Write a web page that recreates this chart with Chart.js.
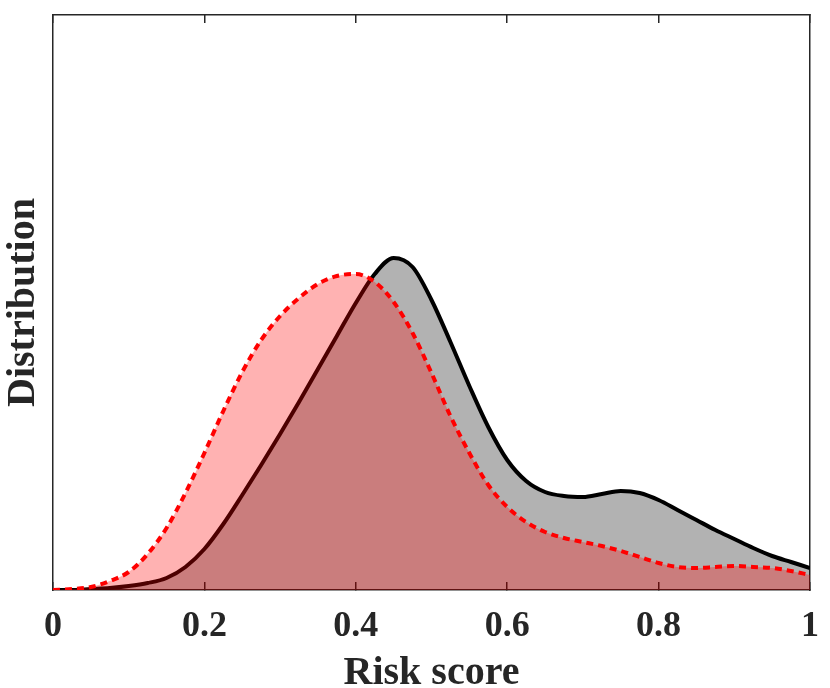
<!DOCTYPE html>
<html>
<head>
<meta charset="utf-8">
<title>Risk score distribution</title>
<script src="https://cdn.jsdelivr.net/npm/chart.js@4"></script>
<style>
    body { margin: 0; background: #ffffff; }
    #wrap { width: 830px; height: 688px; }
</style>
</head>
<body>
<div id="wrap"><canvas id="dist-chart"></canvas></div>
<script>
// Risk score grid (x axis), step 0.025
const riskScores = [0, 0.025, 0.05, 0.075, 0.1, 0.125, 0.15, 0.175, 0.2, 0.225,
    0.25, 0.275, 0.3, 0.325, 0.35, 0.375, 0.4, 0.425, 0.45, 0.475,
    0.5, 0.525, 0.55, 0.575, 0.6, 0.625, 0.65, 0.675, 0.7, 0.725,
    0.75, 0.775, 0.8, 0.825, 0.85, 0.875, 0.9, 0.925, 0.95, 0.975, 1];

// Solid black curve (grey fill)
const blackDensity = [0, 0, 0.01, 0.02, 0.04, 0.07, 0.12, 0.23, 0.41, 0.66,
    0.95, 1.25, 1.56, 1.88, 2.21, 2.54, 2.87, 3.16, 3.32, 3.23,
    2.90, 2.48, 2.04, 1.63, 1.30, 1.09, 0.98, 0.94, 0.93, 0.96,
    0.99, 0.97, 0.90, 0.80, 0.70, 0.60, 0.51, 0.42, 0.34, 0.28, 0.22];

// Dashed red curve (pink fill)
const redDensity = [0, 0.01, 0.03, 0.09, 0.18, 0.36, 0.62, 0.97, 1.37, 1.79,
    2.18, 2.50, 2.74, 2.92, 3.06, 3.14, 3.16, 3.08, 2.88, 2.57,
    2.17, 1.74, 1.37, 1.05, 0.83, 0.68, 0.58, 0.52, 0.48, 0.44,
    0.39, 0.33, 0.27, 0.23, 0.22, 0.23, 0.24, 0.23, 0.22, 0.19, 0.15];

const xTicks = [0, 0.2, 0.4, 0.6, 0.8, 1];

const axisColor = '#262626';
const serifBold = { family: "'Liberation Serif', 'Times New Roman', serif", weight: 'bold' };

function toPoints(values) {
    return riskScores.map((x, i) => ({ x: x, y: values[i] }));
}

// fixed box sizes so the plot area lands where the reference has it
function fixBox(size, key) {
    return scale => {
        scale[key] = size;
        scale.paddingLeft = 0;
        scale.paddingRight = 0;
        scale.paddingTop = 0;
        scale.paddingBottom = 0;
    };
}

const ctx = document.getElementById('dist-chart').getContext('2d');

new Chart(ctx, {
    type: 'line',
    data: {
        datasets: [
            {
                // drawn last, so its fill sits over the black line
                label: 'red',
                data: toPoints(redDensity),
                borderColor: '#ff0000',
                borderWidth: 4,
                borderDash: [7, 5],
                backgroundColor: 'rgba(255, 0, 0, 0.3)',
                fill: 'origin',
                pointRadius: 0,
                cubicInterpolationMode: 'monotone'
            },
            {
                label: 'black',
                data: toPoints(blackDensity),
                borderColor: '#000000',
                borderWidth: 4,
                backgroundColor: 'rgba(0, 0, 0, 0.3)',
                fill: 'origin',
                pointRadius: 0,
                cubicInterpolationMode: 'monotone'
            }
        ]
    },
    options: {
        responsive: true,
        maintainAspectRatio: false,
        animation: false,
        layout: { padding: 0 },
        plugins: {
            legend: { display: false },
            tooltip: { enabled: false }
        },
        scales: {
            x: {
                type: 'linear',
                position: 'bottom',
                min: 0,
                max: 1,
                afterBuildTicks: scale => {
                    scale.ticks = xTicks.map(v => ({ value: v }));
                },
                afterFit: fixBox(98, 'height'),
                ticks: {
                    color: axisColor,
                    padding: 23,
                    maxRotation: 0,
                    callback: value => String(value),
                    font: { ...serifBold, size: 36 }
                },
                grid: {
                    drawOnChartArea: false,
                    drawTicks: true,
                    tickLength: -8,
                    color: axisColor,
                    lineWidth: 1.5
                },
                border: { display: true, color: axisColor, width: 1.5 },
                title: {
                    display: true,
                    text: 'Risk score',
                    color: axisColor,
                    padding: { top: 0, bottom: -10 },
                    font: { ...serifBold, size: 40 }
                }
            },
            xTop: {
                type: 'linear',
                position: 'top',
                min: 0,
                max: 1,
                afterBuildTicks: scale => {
                    scale.ticks = xTicks.map(v => ({ value: v }));
                },
                afterFit: fixBox(15, 'height'),
                ticks: { display: false },
                grid: {
                    drawOnChartArea: false,
                    drawTicks: true,
                    tickLength: -8,
                    color: axisColor,
                    lineWidth: 1.5
                },
                border: { display: true, color: axisColor, width: 1.5 }
            },
            y: {
                type: 'linear',
                position: 'left',
                min: 0,
                max: 5.75,
                afterFit: fixBox(53, 'width'),
                ticks: { display: false },
                grid: { display: false },
                border: { display: true, color: axisColor, width: 1.5 },
                title: {
                    display: true,
                    text: 'Distribution',
                    color: axisColor,
                    padding: 0,
                    font: { ...serifBold, size: 40 }
                }
            },
            yRight: {
                type: 'linear',
                position: 'right',
                min: 0,
                max: 5.75,
                afterFit: fixBox(20, 'width'),
                ticks: { display: false },
                grid: { display: false },
                border: { display: true, color: axisColor, width: 1.5 }
            }
        }
    }
});
</script>
</body>
</html>
